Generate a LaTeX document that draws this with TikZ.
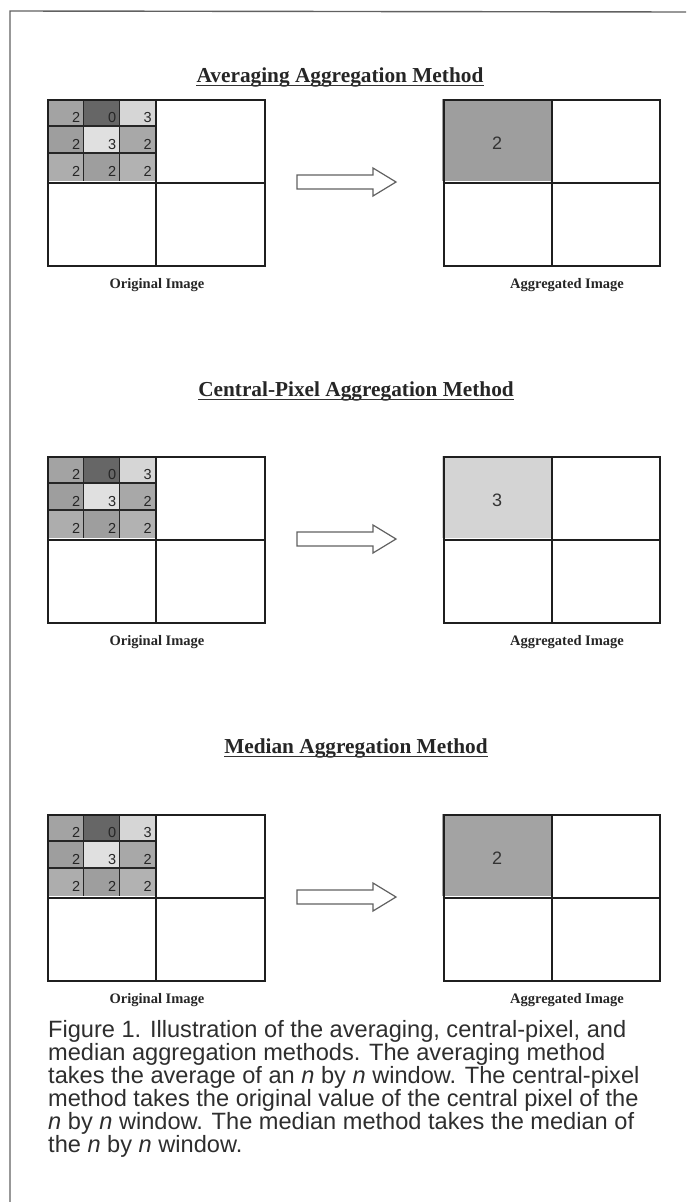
\documentclass[tikz,border=0pt]{standalone}
\usepackage{fontspec}
\setmainfont{Liberation Serif}
\newfontfamily\capsans{Liberation Sans}
\definecolor{cA}{gray}{0.64}
\definecolor{cB}{gray}{0.40}
\definecolor{cC}{gray}{0.84}
\definecolor{cD}{gray}{0.62}
\definecolor{cE}{gray}{0.88}
\definecolor{cF}{gray}{0.66}
\definecolor{cG}{gray}{0.68}
\definecolor{cH}{gray}{0.62}
\definecolor{cI}{gray}{0.70}
\definecolor{aggA}{gray}{0.62}
\definecolor{aggB}{gray}{0.83}
\definecolor{aggC}{gray}{0.64}
\begin{document}
\begin{tikzpicture}[x=1pt,y=-1pt,
  frame/.style={draw=black!62,line width=1.4},
  titletext/.style={font=\fontsize{21.3}{24}\selectfont\bfseries, inner sep=0, anchor=base, text=black!85},
  titleline/.style={draw=black!80, line width=1.3},
  labeltext/.style={font=\fontsize{14.5}{16}\selectfont\bfseries, inner sep=0, anchor=base, text=black!85},
  gridbox/.style={draw=black!88, line width=2.2, inner sep=0, anchor=north west, minimum width=216.5, minimum height=166},
  midline/.style={draw=black!88, line width=2},
  cellline/.style={draw=black!85, line width=1.4},
  digit/.style={font=\capsans\fontsize{14.5}{16}\selectfont, inner sep=0, anchor=base east, text=black!85},
  bigdigit/.style={font=\capsans\fontsize{18}{20}\selectfont, inner sep=0, text=black!80},
  blockarrow/.style={draw=black!62, line width=1.2, fill=white, line join=miter},
  captext/.style={font=\capsans\fontsize{23.6}{23}\selectfont, inner sep=0, anchor=base west, text=black!82}
]
\useasboundingbox (0,0) rectangle (686,1202);
\fill[white] (0,0) rectangle (686,1202);
\draw[frame] (10,1202) -- (10,11) -- (686,12);

% titles
\node[titletext] (title1) at (340,82) {Averaging Aggregation Method};
\node[titletext] (title2) at (356,396) {Central-Pixel Aggregation Method};
\node[titletext] (title3) at (356,753) {Median Aggregation Method};
\foreach \t in {title1,title2,title3}
  \draw[titleline] ([yshift=-3.5pt]\t.base west) -- ([yshift=-3.5pt]\t.base east);

% panels
\foreach \k/\top/\agg/\aggcol in {1/99/2/aggA, 2/456/3/aggB, 3/814/2/aggC}{
\begin{scope}[shift={(0,\top)}]
  % window cells
  \fill[cA] (47,0) rectangle (83.5,27);
  \fill[cB] (83.5,0) rectangle (119.5,27);
  \fill[cC] (119.5,0) rectangle (155,27);
  \fill[cD] (47,27) rectangle (83.5,54);
  \fill[cE] (83.5,27) rectangle (119.5,54);
  \fill[cF] (119.5,27) rectangle (155,54);
  \fill[cG] (47,54) rectangle (83.5,82);
  \fill[cH] (83.5,54) rectangle (119.5,82);
  \fill[cI] (119.5,54) rectangle (155,82);
  \draw[cellline] (83.5,0) -- (83.5,82) (119.5,0) -- (119.5,82)
                  (47,27) -- (155,27) (47,54) -- (155,54);
  \node[digit] at (80.5,23) {2};
  \node[digit] at (116.5,23) {0};
  \node[digit] at (152,23) {3};
  \node[digit] at (80.5,50) {2};
  \node[digit] at (116.5,50) {3};
  \node[digit] at (152,50) {2};
  \node[digit] at (80.5,77.5) {2};
  \node[digit] at (116.5,77.5) {2};
  \node[digit] at (152,77.5) {2};
  % aggregated cell
  \fill[\aggcol] (442,0) rectangle (550.5,82);
  \node[bigdigit] (val\k) at (497,44) {\agg};
  % grids
  \node[gridbox] (orig\k) at (47,0) {};
  \node[gridbox] (aggr\k) at (442.5,0) {};
  \draw[midline] (orig\k.north) -- (orig\k.south) (orig\k.west) -- (orig\k.east);
  \draw[midline] (aggr\k.north) -- (aggr\k.south) (aggr\k.west) -- (aggr\k.east);
  % arrow
  \draw[blockarrow] (297,76) -- (373,76) -- (373,69) -- (396,83) -- (373,97) -- (373,90) -- (297,90) -- cycle;
  % labels
  \node[labeltext] (olab\k) at (157,189) {Original Image};
  \node[labeltext] (alab\k) at (567,189) {Aggregated Image};
\end{scope}
}

% caption
\foreach \ln [count=\i from 0] in {
  {Figure 1. Illustration of the averaging, central-pixel, and},
  {median aggregation methods. The averaging method},
  {takes the average of an \textit{n} by \textit{n} window. The central-pixel},
  {method takes the original value of the central pixel of the},
  {\textit{n} by \textit{n} window. The median method takes the median of},
  {the \textit{n} by \textit{n} window.}}
  \node[captext] (cap\i) at (48,{1037+23*\i}) {\ln};
\end{tikzpicture}
\end{document}
